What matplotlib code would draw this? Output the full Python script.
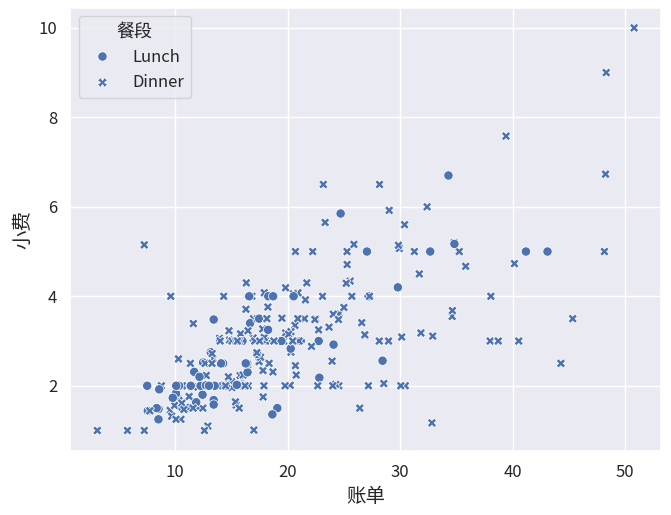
import matplotlib
matplotlib.use("Agg")
import matplotlib.pyplot as plt
import seaborn as sns
import pandas as pd

total_bill = [16.99,10.34,21.01,23.68,24.59,25.29,8.77,26.88,15.04,14.78,10.27,35.26,15.42,18.43,14.83,21.58,10.33,16.29,16.97,20.65,17.92,20.29,15.77,39.42,19.82,17.81,13.37,12.69,21.7,19.65,9.55,18.35,15.06,20.69,17.78,24.06,16.31,16.93,18.69,31.27,16.04,17.46,13.94,9.68,30.4,18.29,22.23,32.4,28.55,18.04,12.54,10.29,34.81,9.94,25.56,19.49,38.01,26.41,11.24,48.27,20.29,13.81,11.02,18.29,17.59,20.08,16.45,3.07,20.23,15.01,12.02,17.07,26.86,25.28,14.73,10.51,17.92,27.2,22.76,17.29,19.44,16.66,10.07,32.68,15.98,34.83,13.03,18.28,24.71,21.16,28.97,22.49,5.75,16.32,22.75,40.17,27.28,12.03,21.01,12.46,11.35,15.38,44.3,22.42,20.92,15.36,20.49,25.21,18.24,14.31,14.0,7.25,38.07,23.95,25.71,17.31,29.93,10.65,12.43,24.08,11.69,13.42,14.26,15.95,12.48,29.8,8.52,14.52,11.38,22.82,19.08,20.27,11.17,12.26,18.26,8.51,10.33,14.15,16.0,13.16,17.47,34.3,41.19,27.05,16.43,8.35,18.64,11.87,9.78,7.51,14.07,13.13,17.26,24.55,19.77,29.85,48.17,25.0,13.39,16.49,21.5,12.66,16.21,13.81,17.51,24.52,20.76,31.71,10.59,10.63,50.81,15.81,7.25,31.85,16.82,32.9,17.89,14.48,9.6,34.63,34.65,23.33,45.35,23.17,40.55,20.69,20.9,30.46,18.15,23.1,15.69,19.81,28.44,15.48,16.58,7.56,10.34,43.11,13.0,13.51,18.71,12.74,13.0,16.4,20.53,16.47,26.59,38.73,24.27,12.76,30.06,25.89,48.33,13.27,28.17,12.9,28.15,11.59,7.74,30.14,12.16,13.42,8.58,15.98,13.42,16.27,10.09,20.45,13.28,22.12,24.01,15.69,11.61,10.77,15.53,10.07,12.6,32.83,35.83,29.03,27.18,22.67,17.82,18.78]
tip = [1.01,1.66,3.5,3.31,3.61,4.71,2.0,3.12,1.96,3.23,1.71,5.0,1.57,3.0,3.02,3.92,1.67,3.71,3.5,3.35,4.08,2.75,2.23,7.58,3.18,2.34,2.0,2.0,4.3,3.0,1.45,2.5,3.0,2.45,3.27,3.6,2.0,3.07,2.31,5.0,2.24,2.54,3.06,1.32,5.6,3.0,5.0,6.0,2.05,3.0,2.5,2.6,5.2,1.56,4.34,3.51,3.0,1.5,1.76,6.73,3.21,2.0,1.98,3.76,2.64,3.15,2.47,1.0,2.01,2.09,1.97,3.0,3.14,5.0,2.2,1.25,3.08,4.0,3.0,2.71,3.0,3.4,1.83,5.0,2.03,5.17,2.0,4.0,5.85,3.0,3.0,3.5,1.0,4.3,3.25,4.73,4.0,1.5,3.0,1.5,2.5,3.0,2.5,3.48,4.08,1.64,4.06,4.29,3.76,4.0,3.0,1.0,4.0,2.55,4.0,3.5,5.07,1.5,1.8,2.92,2.31,1.68,2.5,2.0,2.52,4.2,1.48,2.0,2.0,2.18,1.5,2.83,1.5,2.0,3.25,1.25,2.0,2.0,2.0,2.75,3.5,6.7,5.0,5.0,2.3,1.5,1.36,1.63,1.73,2.0,2.5,2.0,2.74,2.0,2.0,5.14,5.0,3.75,2.61,2.0,3.5,2.5,2.0,2.0,3.0,3.48,2.24,4.5,1.61,2.0,10.0,3.16,5.15,3.18,4.0,3.11,2.0,2.0,4.0,3.55,3.68,5.65,3.5,6.5,3.0,5.0,3.5,2.0,3.5,4.0,1.5,4.19,2.56,2.02,4.0,1.44,2.0,5.0,2.0,2.0,4.0,2.01,2.0,2.5,4.0,3.23,3.41,3.0,2.03,2.23,2.0,5.16,9.0,2.5,6.5,1.1,3.0,1.5,1.44,3.09,2.2,3.48,1.92,3.0,1.58,2.5,2.0,3.0,2.72,2.88,2.0,3.0,3.39,1.47,3.0,1.25,1.0,1.17,4.67,5.92,2.0,2.0,1.75,3.0]
time = (["Dinner"]*77 + ["Lunch"]*13 + ["Dinner"]*27 + ["Lunch"]*35 + ["Dinner"]*40
        + ["Lunch"]*13 + ["Dinner"]*15 + ["Lunch"]*7 + ["Dinner"]*17)
style_order = ["Lunch", "Dinner"]

df = pd.DataFrame({"total_bill": total_bill, "tip": tip, "time": time})

sns.set_theme(style="darkgrid")
plt.rcParams['font.family'] = ['Noto Sans CJK SC', 'DejaVu Sans']
plt.rcParams['axes.unicode_minus'] = False

fig, ax = plt.subplots(figsize=(6.71, 5.15), dpi=100)
sns.scatterplot(data=df, x="total_bill", y="tip", style="time", style_order=style_order, ax=ax, s=45)
ax.set_xlabel("账单", fontsize=14)
ax.set_ylabel("小费", fontsize=14)
ax.tick_params(labelsize=12)
ax.legend(title="餐段", loc="upper left", fontsize=12, title_fontsize=13)
fig.subplots_adjust(left=0.105, right=0.985, top=0.985, bottom=0.125)
fig.savefig("out.png", dpi=100)
